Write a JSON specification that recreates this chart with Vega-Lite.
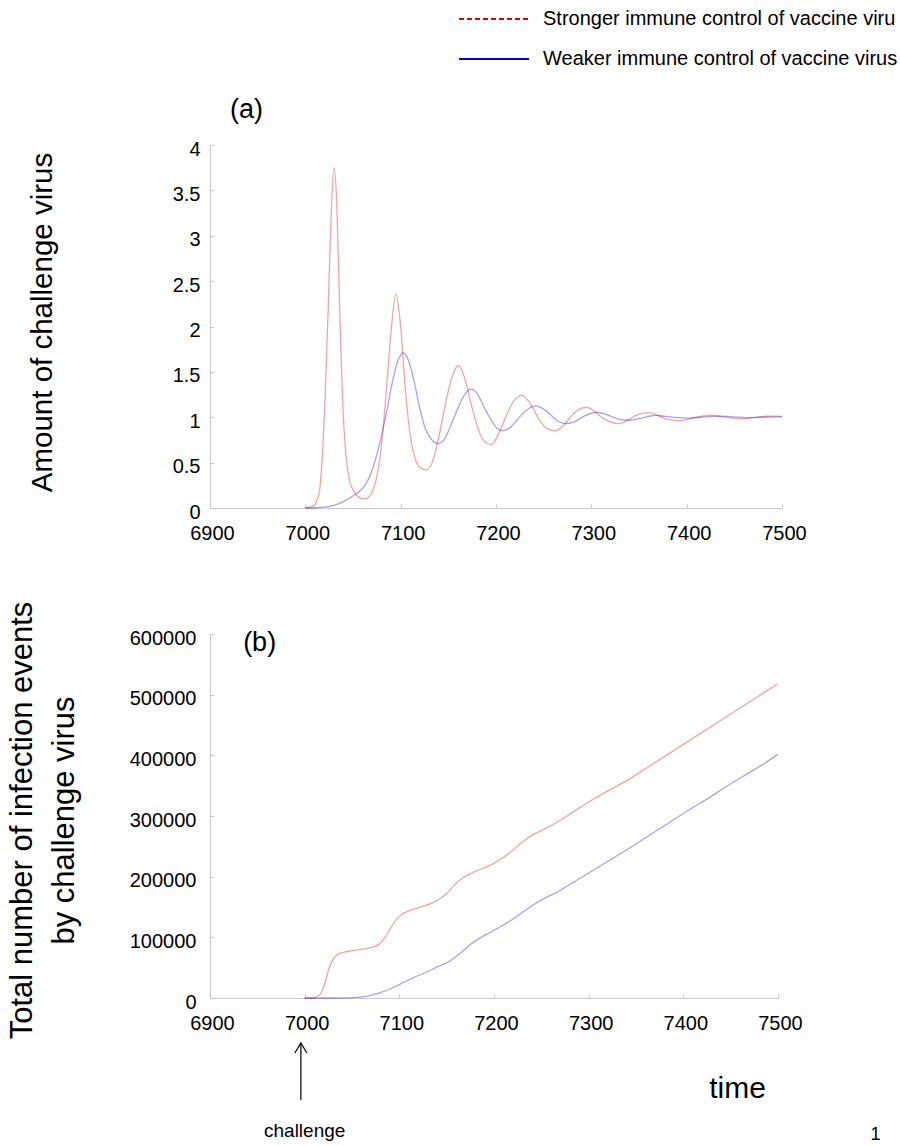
{
  "$schema": "https://vega.github.io/schema/vega-lite/v6.json",
  "padding": {"left": 5, "top": 8, "right": 0, "bottom": 0},
  "autosize": {"type": "pad"},
  "background": "white",
  "spacing": 58,
  "config": {
    "font": "Liberation Sans",
    "view": {"stroke": null},
    "axis": {
      "grid": false,
      "domainColor": "#c8c8c8",
      "tickColor": "#c8c8c8",
      "tickSize": -4,
      "labelFont": "Liberation Sans",
      "labelFontSize": 20,
      "labelColor": "#000000",
      "titleFont": "Liberation Sans",
      "titleFontWeight": "normal",
      "titleColor": "#000000",
      "labelFlush": false,
      "labelOverlap": false
    }
  },
  "datasets": {
    "a": [
      {"t": 7000, "v": 0, "s": "Stronger immune control of vaccine virus"},
      {"t": 7008, "v": 0.02, "s": "Stronger immune control of vaccine virus"},
      {"t": 7012, "v": 0.08, "s": "Stronger immune control of vaccine virus"},
      {"t": 7015, "v": 0.2, "s": "Stronger immune control of vaccine virus"},
      {"t": 7018, "v": 0.6, "s": "Stronger immune control of vaccine virus"},
      {"t": 7021, "v": 1.3, "s": "Stronger immune control of vaccine virus"},
      {"t": 7024, "v": 2.2, "s": "Stronger immune control of vaccine virus"},
      {"t": 7027, "v": 3.2, "s": "Stronger immune control of vaccine virus"},
      {"t": 7030, "v": 3.75, "s": "Stronger immune control of vaccine virus"},
      {"t": 7033, "v": 3.35, "s": "Stronger immune control of vaccine virus"},
      {"t": 7036, "v": 2.2, "s": "Stronger immune control of vaccine virus"},
      {"t": 7039, "v": 1.2, "s": "Stronger immune control of vaccine virus"},
      {"t": 7042, "v": 0.65, "s": "Stronger immune control of vaccine virus"},
      {"t": 7046, "v": 0.32, "s": "Stronger immune control of vaccine virus"},
      {"t": 7050, "v": 0.2, "s": "Stronger immune control of vaccine virus"},
      {"t": 7056, "v": 0.12, "s": "Stronger immune control of vaccine virus"},
      {"t": 7062, "v": 0.1, "s": "Stronger immune control of vaccine virus"},
      {"t": 7068, "v": 0.14, "s": "Stronger immune control of vaccine virus"},
      {"t": 7074, "v": 0.3, "s": "Stronger immune control of vaccine virus"},
      {"t": 7080, "v": 0.7, "s": "Stronger immune control of vaccine virus"},
      {"t": 7085, "v": 1.3, "s": "Stronger immune control of vaccine virus"},
      {"t": 7090, "v": 1.95, "s": "Stronger immune control of vaccine virus"},
      {"t": 7095, "v": 2.36, "s": "Stronger immune control of vaccine virus"},
      {"t": 7100, "v": 2.0, "s": "Stronger immune control of vaccine virus"},
      {"t": 7105, "v": 1.3, "s": "Stronger immune control of vaccine virus"},
      {"t": 7110, "v": 0.8, "s": "Stronger immune control of vaccine virus"},
      {"t": 7115, "v": 0.55, "s": "Stronger immune control of vaccine virus"},
      {"t": 7121, "v": 0.44, "s": "Stronger immune control of vaccine virus"},
      {"t": 7127, "v": 0.42, "s": "Stronger immune control of vaccine virus"},
      {"t": 7133, "v": 0.5, "s": "Stronger immune control of vaccine virus"},
      {"t": 7140, "v": 0.78, "s": "Stronger immune control of vaccine virus"},
      {"t": 7147, "v": 1.15, "s": "Stronger immune control of vaccine virus"},
      {"t": 7154, "v": 1.45, "s": "Stronger immune control of vaccine virus"},
      {"t": 7161, "v": 1.57, "s": "Stronger immune control of vaccine virus"},
      {"t": 7168, "v": 1.4, "s": "Stronger immune control of vaccine virus"},
      {"t": 7175, "v": 1.1, "s": "Stronger immune control of vaccine virus"},
      {"t": 7182, "v": 0.85, "s": "Stronger immune control of vaccine virus"},
      {"t": 7188, "v": 0.73, "s": "Stronger immune control of vaccine virus"},
      {"t": 7195, "v": 0.7, "s": "Stronger immune control of vaccine virus"},
      {"t": 7202, "v": 0.8, "s": "Stronger immune control of vaccine virus"},
      {"t": 7210, "v": 1.0, "s": "Stronger immune control of vaccine virus"},
      {"t": 7218, "v": 1.17, "s": "Stronger immune control of vaccine virus"},
      {"t": 7227, "v": 1.24, "s": "Stronger immune control of vaccine virus"},
      {"t": 7236, "v": 1.15, "s": "Stronger immune control of vaccine virus"},
      {"t": 7245, "v": 0.98, "s": "Stronger immune control of vaccine virus"},
      {"t": 7253, "v": 0.88, "s": "Stronger immune control of vaccine virus"},
      {"t": 7262, "v": 0.85, "s": "Stronger immune control of vaccine virus"},
      {"t": 7270, "v": 0.9, "s": "Stronger immune control of vaccine virus"},
      {"t": 7278, "v": 1.0, "s": "Stronger immune control of vaccine virus"},
      {"t": 7286, "v": 1.08, "s": "Stronger immune control of vaccine virus"},
      {"t": 7295, "v": 1.11, "s": "Stronger immune control of vaccine virus"},
      {"t": 7304, "v": 1.06, "s": "Stronger immune control of vaccine virus"},
      {"t": 7312, "v": 0.99, "s": "Stronger immune control of vaccine virus"},
      {"t": 7320, "v": 0.95, "s": "Stronger immune control of vaccine virus"},
      {"t": 7329, "v": 0.93, "s": "Stronger immune control of vaccine virus"},
      {"t": 7337, "v": 0.96, "s": "Stronger immune control of vaccine virus"},
      {"t": 7345, "v": 1.01, "s": "Stronger immune control of vaccine virus"},
      {"t": 7352, "v": 1.04, "s": "Stronger immune control of vaccine virus"},
      {"t": 7360, "v": 1.05, "s": "Stronger immune control of vaccine virus"},
      {"t": 7368, "v": 1.03, "s": "Stronger immune control of vaccine virus"},
      {"t": 7376, "v": 0.99, "s": "Stronger immune control of vaccine virus"},
      {"t": 7384, "v": 0.97, "s": "Stronger immune control of vaccine virus"},
      {"t": 7393, "v": 0.963, "s": "Stronger immune control of vaccine virus"},
      {"t": 7402, "v": 0.98, "s": "Stronger immune control of vaccine virus"},
      {"t": 7410, "v": 1.0, "s": "Stronger immune control of vaccine virus"},
      {"t": 7418, "v": 1.015, "s": "Stronger immune control of vaccine virus"},
      {"t": 7426, "v": 1.022, "s": "Stronger immune control of vaccine virus"},
      {"t": 7435, "v": 1.01, "s": "Stronger immune control of vaccine virus"},
      {"t": 7443, "v": 0.995, "s": "Stronger immune control of vaccine virus"},
      {"t": 7451, "v": 0.988, "s": "Stronger immune control of vaccine virus"},
      {"t": 7459, "v": 0.985, "s": "Stronger immune control of vaccine virus"},
      {"t": 7468, "v": 0.995, "s": "Stronger immune control of vaccine virus"},
      {"t": 7476, "v": 1.005, "s": "Stronger immune control of vaccine virus"},
      {"t": 7484, "v": 1.012, "s": "Stronger immune control of vaccine virus"},
      {"t": 7492, "v": 1.012, "s": "Stronger immune control of vaccine virus"},
      {"t": 7500, "v": 1.01, "s": "Stronger immune control of vaccine virus"},
      {"t": 7000, "v": 0, "s": "Weaker immune control of vaccine virus"},
      {"t": 7010, "v": 0.003, "s": "Weaker immune control of vaccine virus"},
      {"t": 7020, "v": 0.01, "s": "Weaker immune control of vaccine virus"},
      {"t": 7030, "v": 0.03, "s": "Weaker immune control of vaccine virus"},
      {"t": 7040, "v": 0.07, "s": "Weaker immune control of vaccine virus"},
      {"t": 7048, "v": 0.12, "s": "Weaker immune control of vaccine virus"},
      {"t": 7055, "v": 0.17, "s": "Weaker immune control of vaccine virus"},
      {"t": 7062, "v": 0.24, "s": "Weaker immune control of vaccine virus"},
      {"t": 7068, "v": 0.36, "s": "Weaker immune control of vaccine virus"},
      {"t": 7074, "v": 0.55, "s": "Weaker immune control of vaccine virus"},
      {"t": 7080, "v": 0.8, "s": "Weaker immune control of vaccine virus"},
      {"t": 7086, "v": 1.1, "s": "Weaker immune control of vaccine virus"},
      {"t": 7092, "v": 1.42, "s": "Weaker immune control of vaccine virus"},
      {"t": 7097, "v": 1.62, "s": "Weaker immune control of vaccine virus"},
      {"t": 7103, "v": 1.71, "s": "Weaker immune control of vaccine virus"},
      {"t": 7108, "v": 1.63, "s": "Weaker immune control of vaccine virus"},
      {"t": 7114, "v": 1.4, "s": "Weaker immune control of vaccine virus"},
      {"t": 7120, "v": 1.1, "s": "Weaker immune control of vaccine virus"},
      {"t": 7126, "v": 0.87, "s": "Weaker immune control of vaccine virus"},
      {"t": 7132, "v": 0.76, "s": "Weaker immune control of vaccine virus"},
      {"t": 7139, "v": 0.71, "s": "Weaker immune control of vaccine virus"},
      {"t": 7146, "v": 0.76, "s": "Weaker immune control of vaccine virus"},
      {"t": 7153, "v": 0.92, "s": "Weaker immune control of vaccine virus"},
      {"t": 7160, "v": 1.1, "s": "Weaker immune control of vaccine virus"},
      {"t": 7167, "v": 1.25, "s": "Weaker immune control of vaccine virus"},
      {"t": 7174, "v": 1.31, "s": "Weaker immune control of vaccine virus"},
      {"t": 7181, "v": 1.25, "s": "Weaker immune control of vaccine virus"},
      {"t": 7188, "v": 1.1, "s": "Weaker immune control of vaccine virus"},
      {"t": 7195, "v": 0.97, "s": "Weaker immune control of vaccine virus"},
      {"t": 7201, "v": 0.88, "s": "Weaker immune control of vaccine virus"},
      {"t": 7207, "v": 0.853, "s": "Weaker immune control of vaccine virus"},
      {"t": 7214, "v": 0.88, "s": "Weaker immune control of vaccine virus"},
      {"t": 7222, "v": 0.97, "s": "Weaker immune control of vaccine virus"},
      {"t": 7230, "v": 1.06, "s": "Weaker immune control of vaccine virus"},
      {"t": 7241, "v": 1.125, "s": "Weaker immune control of vaccine virus"},
      {"t": 7250, "v": 1.09, "s": "Weaker immune control of vaccine virus"},
      {"t": 7258, "v": 1.02, "s": "Weaker immune control of vaccine virus"},
      {"t": 7266, "v": 0.95, "s": "Weaker immune control of vaccine virus"},
      {"t": 7273, "v": 0.93, "s": "Weaker immune control of vaccine virus"},
      {"t": 7282, "v": 0.95, "s": "Weaker immune control of vaccine virus"},
      {"t": 7292, "v": 1.01, "s": "Weaker immune control of vaccine virus"},
      {"t": 7306, "v": 1.055, "s": "Weaker immune control of vaccine virus"},
      {"t": 7316, "v": 1.03, "s": "Weaker immune control of vaccine virus"},
      {"t": 7328, "v": 0.98, "s": "Weaker immune control of vaccine virus"},
      {"t": 7339, "v": 0.967, "s": "Weaker immune control of vaccine virus"},
      {"t": 7350, "v": 0.985, "s": "Weaker immune control of vaccine virus"},
      {"t": 7360, "v": 1.01, "s": "Weaker immune control of vaccine virus"},
      {"t": 7368, "v": 1.02, "s": "Weaker immune control of vaccine virus"},
      {"t": 7378, "v": 1.01, "s": "Weaker immune control of vaccine virus"},
      {"t": 7390, "v": 0.995, "s": "Weaker immune control of vaccine virus"},
      {"t": 7401, "v": 0.99, "s": "Weaker immune control of vaccine virus"},
      {"t": 7415, "v": 1.0, "s": "Weaker immune control of vaccine virus"},
      {"t": 7434, "v": 1.012, "s": "Weaker immune control of vaccine virus"},
      {"t": 7450, "v": 1.005, "s": "Weaker immune control of vaccine virus"},
      {"t": 7466, "v": 0.995, "s": "Weaker immune control of vaccine virus"},
      {"t": 7480, "v": 1.0, "s": "Weaker immune control of vaccine virus"},
      {"t": 7500, "v": 1.005, "s": "Weaker immune control of vaccine virus"}
    ],
    "b": [
      {"t": 7000, "v": 0, "s": "Stronger immune control of vaccine virus"},
      {"t": 7008, "v": 0, "s": "Stronger immune control of vaccine virus"},
      {"t": 7013, "v": 2000, "s": "Stronger immune control of vaccine virus"},
      {"t": 7018, "v": 10000, "s": "Stronger immune control of vaccine virus"},
      {"t": 7022, "v": 28000, "s": "Stronger immune control of vaccine virus"},
      {"t": 7026, "v": 50000, "s": "Stronger immune control of vaccine virus"},
      {"t": 7030, "v": 64000, "s": "Stronger immune control of vaccine virus"},
      {"t": 7034, "v": 71000, "s": "Stronger immune control of vaccine virus"},
      {"t": 7040, "v": 75000, "s": "Stronger immune control of vaccine virus"},
      {"t": 7050, "v": 78000, "s": "Stronger immune control of vaccine virus"},
      {"t": 7060, "v": 80000, "s": "Stronger immune control of vaccine virus"},
      {"t": 7070, "v": 83000, "s": "Stronger immune control of vaccine virus"},
      {"t": 7078, "v": 88000, "s": "Stronger immune control of vaccine virus"},
      {"t": 7085, "v": 100000, "s": "Stronger immune control of vaccine virus"},
      {"t": 7092, "v": 118000, "s": "Stronger immune control of vaccine virus"},
      {"t": 7098, "v": 132000, "s": "Stronger immune control of vaccine virus"},
      {"t": 7105, "v": 140000, "s": "Stronger immune control of vaccine virus"},
      {"t": 7112, "v": 145000, "s": "Stronger immune control of vaccine virus"},
      {"t": 7125, "v": 151000, "s": "Stronger immune control of vaccine virus"},
      {"t": 7140, "v": 161000, "s": "Stronger immune control of vaccine virus"},
      {"t": 7150, "v": 172000, "s": "Stronger immune control of vaccine virus"},
      {"t": 7158, "v": 186000, "s": "Stronger immune control of vaccine virus"},
      {"t": 7166, "v": 197000, "s": "Stronger immune control of vaccine virus"},
      {"t": 7175, "v": 205000, "s": "Stronger immune control of vaccine virus"},
      {"t": 7190, "v": 215000, "s": "Stronger immune control of vaccine virus"},
      {"t": 7200, "v": 222000, "s": "Stronger immune control of vaccine virus"},
      {"t": 7210, "v": 232000, "s": "Stronger immune control of vaccine virus"},
      {"t": 7220, "v": 244000, "s": "Stronger immune control of vaccine virus"},
      {"t": 7230, "v": 257000, "s": "Stronger immune control of vaccine virus"},
      {"t": 7240, "v": 268000, "s": "Stronger immune control of vaccine virus"},
      {"t": 7255, "v": 280000, "s": "Stronger immune control of vaccine virus"},
      {"t": 7270, "v": 293000, "s": "Stronger immune control of vaccine virus"},
      {"t": 7285, "v": 308000, "s": "Stronger immune control of vaccine virus"},
      {"t": 7300, "v": 323000, "s": "Stronger immune control of vaccine virus"},
      {"t": 7320, "v": 341000, "s": "Stronger immune control of vaccine virus"},
      {"t": 7342, "v": 360000, "s": "Stronger immune control of vaccine virus"},
      {"t": 7360, "v": 378000, "s": "Stronger immune control of vaccine virus"},
      {"t": 7384, "v": 402000, "s": "Stronger immune control of vaccine virus"},
      {"t": 7405, "v": 423000, "s": "Stronger immune control of vaccine virus"},
      {"t": 7426, "v": 444000, "s": "Stronger immune control of vaccine virus"},
      {"t": 7446, "v": 464000, "s": "Stronger immune control of vaccine virus"},
      {"t": 7467, "v": 485000, "s": "Stronger immune control of vaccine virus"},
      {"t": 7485, "v": 503000, "s": "Stronger immune control of vaccine virus"},
      {"t": 7500, "v": 518000, "s": "Stronger immune control of vaccine virus"},
      {"t": 7000, "v": 0, "s": "Weaker immune control of vaccine virus"},
      {"t": 7028, "v": 0, "s": "Weaker immune control of vaccine virus"},
      {"t": 7045, "v": 300, "s": "Weaker immune control of vaccine virus"},
      {"t": 7056, "v": 1100, "s": "Weaker immune control of vaccine virus"},
      {"t": 7064, "v": 2500, "s": "Weaker immune control of vaccine virus"},
      {"t": 7072, "v": 5500, "s": "Weaker immune control of vaccine virus"},
      {"t": 7080, "v": 9000, "s": "Weaker immune control of vaccine virus"},
      {"t": 7089, "v": 14000, "s": "Weaker immune control of vaccine virus"},
      {"t": 7101, "v": 23000, "s": "Weaker immune control of vaccine virus"},
      {"t": 7114, "v": 33000, "s": "Weaker immune control of vaccine virus"},
      {"t": 7128, "v": 42000, "s": "Weaker immune control of vaccine virus"},
      {"t": 7141, "v": 52000, "s": "Weaker immune control of vaccine virus"},
      {"t": 7150, "v": 58000, "s": "Weaker immune control of vaccine virus"},
      {"t": 7158, "v": 66000, "s": "Weaker immune control of vaccine virus"},
      {"t": 7166, "v": 76000, "s": "Weaker immune control of vaccine virus"},
      {"t": 7175, "v": 88000, "s": "Weaker immune control of vaccine virus"},
      {"t": 7183, "v": 97000, "s": "Weaker immune control of vaccine virus"},
      {"t": 7191, "v": 104000, "s": "Weaker immune control of vaccine virus"},
      {"t": 7204, "v": 115000, "s": "Weaker immune control of vaccine virus"},
      {"t": 7216, "v": 126000, "s": "Weaker immune control of vaccine virus"},
      {"t": 7228, "v": 139000, "s": "Weaker immune control of vaccine virus"},
      {"t": 7241, "v": 153000, "s": "Weaker immune control of vaccine virus"},
      {"t": 7254, "v": 165000, "s": "Weaker immune control of vaccine virus"},
      {"t": 7267, "v": 175000, "s": "Weaker immune control of vaccine virus"},
      {"t": 7283, "v": 190000, "s": "Weaker immune control of vaccine virus"},
      {"t": 7300, "v": 206000, "s": "Weaker immune control of vaccine virus"},
      {"t": 7320, "v": 225000, "s": "Weaker immune control of vaccine virus"},
      {"t": 7342, "v": 246000, "s": "Weaker immune control of vaccine virus"},
      {"t": 7363, "v": 267000, "s": "Weaker immune control of vaccine virus"},
      {"t": 7384, "v": 288000, "s": "Weaker immune control of vaccine virus"},
      {"t": 7405, "v": 309000, "s": "Weaker immune control of vaccine virus"},
      {"t": 7426, "v": 329000, "s": "Weaker immune control of vaccine virus"},
      {"t": 7446, "v": 349000, "s": "Weaker immune control of vaccine virus"},
      {"t": 7467, "v": 369000, "s": "Weaker immune control of vaccine virus"},
      {"t": 7485, "v": 386000, "s": "Weaker immune control of vaccine virus"},
      {"t": 7500, "v": 402000, "s": "Weaker immune control of vaccine virus"}
    ]
  },
  "vconcat": [
    {
      "width": 572,
      "height": 363,
      "layer": [
        {
          "data": {"name": "a"},
          "mark": {"type": "line", "interpolate": "monotone", "strokeWidth": 1.3, "strokeOpacity": 0.36},
          "encoding": {
            "x": {"field": "t", "type": "quantitative", "scale": {"domain": [6900, 7500], "nice": false},
              "axis": {"values": [6900, 7000, 7100, 7200, 7300, 7400, 7500], "format": "d", "title": null, "labelPadding": 19, "labelOffset": 2}},
            "y": {"field": "v", "type": "quantitative", "scale": {"domain": [0, 4], "nice": false},
              "axis": {"values": [0, 0.5, 1, 1.5, 2, 2.5, 3, 3.5, 4], "format": "~g", "title": "Amount of challenge virus", "titleFontSize": 29.5, "titleX": -168, "titleY": 177, "titleAngle": -90, "titleBaseline": "middle", "titleAlign": "center", "labelPadding": 14, "labelOffset": 4}},
            "color": {"field": "s", "type": "nominal",
              "scale": {"domain": ["Stronger immune control of vaccine virus", "Weaker immune control of vaccine virus"], "range": ["#e00000", "#0000e0"]},
              "legend": {"orient": "none", "legendX": 273, "legendY": -137, "title": null, "symbolType": "M-3.5,0L3.5,0", "symbolSize": 400, "symbolStrokeWidth": 2, "symbolOpacity": 1, "labelFontSize": 20, "labelFont": "Liberation Sans", "labelColor": "#000000", "labelOffset": 38, "labelLimit": 355, "rowPadding": 19,
                "encode": {
                  "symbols": {"update": {
                    "strokeDash": {"signal": "datum.value === 'Stronger immune control of vaccine virus' ? [5, 3] : [1, 0]"},
                    "strokeOpacity": {"value": 1},
                    "opacity": {"value": 1},
                    "fill": {"value": "transparent"}
                  }},
                  "labels": {"update": {"ellipsis": {"value": "\u200b"}}}
                }}}
          }
        },
        {
          "data": {"values": [{"t": 6921, "v": 4.386, "label": "(a)"}]},
          "mark": {"type": "text", "align": "left", "baseline": "middle", "fontSize": 27, "font": "Liberation Sans", "color": "#000000"},
          "encoding": {
            "x": {"field": "t", "type": "quantitative"},
            "y": {"field": "v", "type": "quantitative"},
            "text": {"field": "label"}
          }
        }
      ]
    },
    {
      "width": 568,
      "height": 364,
      "layer": [
        {
          "data": {"name": "b"},
          "mark": {"type": "line", "interpolate": "monotone", "strokeWidth": 1.3, "strokeOpacity": 0.36},
          "encoding": {
            "x": {"field": "t", "type": "quantitative", "scale": {"domain": [6900, 7500], "nice": false},
              "axis": {"values": [6900, 7000, 7100, 7200, 7300, 7400, 7500], "format": "d", "title": "time", "titleFontSize": 30, "titleX": 527, "titleY": 90, "titleAngle": 0, "titleAlign": "center", "titleBaseline": "middle", "labelPadding": 19, "labelOffset": 2}},
            "y": {"field": "v", "type": "quantitative", "scale": {"domain": [0, 600000], "nice": false},
              "axis": {"values": [0, 100000, 200000, 300000, 400000, 500000, 600000], "format": "d", "title": ["Total number of infection events", "by challenge virus"], "titleFontSize": 31, "titleLineHeight": 42, "titleX": -188, "titleY": 186, "titleAngle": -90, "titleBaseline": "middle", "titleAlign": "center", "labelPadding": 18, "labelOffset": 4}},
            "color": {"field": "s", "type": "nominal",
              "scale": {"domain": ["Stronger immune control of vaccine virus", "Weaker immune control of vaccine virus"], "range": ["#e00000", "#0000e0"]},
              "legend": {"orient": "none", "legendX": 273, "legendY": -137, "title": null, "symbolType": "M-3.5,0L3.5,0", "symbolSize": 400, "symbolStrokeWidth": 2, "symbolOpacity": 1, "labelFontSize": 20, "labelFont": "Liberation Sans", "labelColor": "#000000", "labelOffset": 38, "labelLimit": 355, "rowPadding": 19,
                "encode": {
                  "symbols": {"update": {
                    "strokeDash": {"signal": "datum.value === 'Stronger immune control of vaccine virus' ? [5, 3] : [1, 0]"},
                    "strokeOpacity": {"value": 1},
                    "opacity": {"value": 1},
                    "fill": {"value": "transparent"}
                  }},
                  "labels": {"update": {"ellipsis": {"value": "\u200b"}}}
                }}}
          }
        },
        {
          "data": {"values": [{"t": 6935, "v": 585000, "label": "(b)"}]},
          "mark": {"type": "text", "align": "left", "baseline": "middle", "fontSize": 27, "font": "Liberation Sans", "color": "#000000"},
          "encoding": {
            "x": {"field": "t", "type": "quantitative"},
            "y": {"field": "v", "type": "quantitative"},
            "text": {"field": "label"}
          }
        },
        {
          "data": {"values": [{"t": 6996, "v": -74200, "v2": -168100}]},
          "mark": {"type": "rule", "color": "#000000", "strokeWidth": 1.2},
          "encoding": {
            "x": {"field": "t", "type": "quantitative"},
            "y": {"field": "v", "type": "quantitative"},
            "y2": {"field": "v2"}
          }
        },
        {
          "data": {"values": [{"t": 6996, "v": -74200}]},
          "mark": {"type": "point", "shape": "M-0.6,1L0,0L0.6,1", "size": 400, "filled": false, "color": "#000000", "strokeWidth": 1.2, "opacity": 1},
          "encoding": {
            "x": {"field": "t", "type": "quantitative"},
            "y": {"field": "v", "type": "quantitative"}
          }
        },
        {
          "data": {"values": [{"t": 7000, "v": -219000, "label": "challenge"}]},
          "mark": {"type": "text", "align": "center", "baseline": "middle", "fontSize": 19, "font": "Liberation Sans", "color": "#000000"},
          "encoding": {
            "x": {"field": "t", "type": "quantitative"},
            "y": {"field": "v", "type": "quantitative"},
            "text": {"field": "label"}
          }
        },
        {
          "data": {"values": [{"t": 7603, "v": -225800, "label": "1"}]},
          "mark": {"type": "text", "align": "center", "baseline": "middle", "fontSize": 18, "font": "Liberation Sans", "color": "#000000"},
          "encoding": {
            "x": {"field": "t", "type": "quantitative"},
            "y": {"field": "v", "type": "quantitative"},
            "text": {"field": "label"}
          }
        }
      ]
    }
  ]
}
